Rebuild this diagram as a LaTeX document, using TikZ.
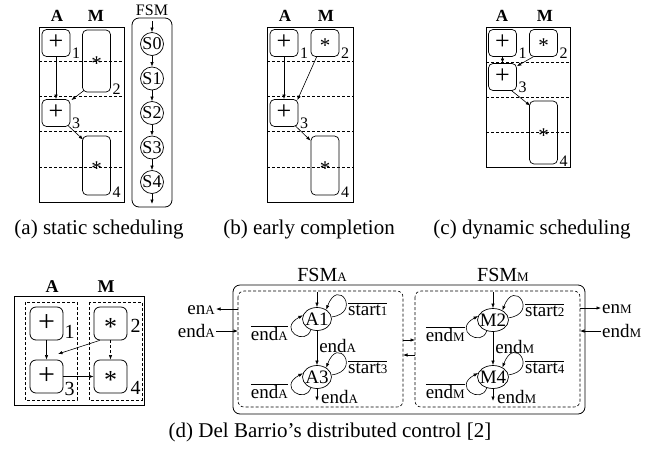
\documentclass[tikz,border=0pt]{standalone}
\usepackage{fontspec}
\setmainfont{Liberation Serif}
\usetikzlibrary{arrows.meta,shapes.geometric}
\newcommand{\fs}[1]{\fontsize{#1}{#1}\selectfont}
\newcommand{\sm}[1]{{\fontsize{13}{13}\selectfont #1}}
\newcommand{\ovl}[1]{$\overline{\hbox{#1}}$}
\newcommand{\ctr}[2]{\raisebox{-#1}[0pt][0pt]{#2}}
\newcommand{\plusop}[1]{{\fs{#1}\ctr{0.25em}{+}}}
\newcommand{\mulop}[1]{{\fs{#1}\ctr{0.47em}{*}}}
\newcommand{\rloop}[1]{\draw[arr] (#1.8) .. controls +(30,-4) and +(12,-33) .. (#1.45);}
\newcommand{\lloop}[1]{\draw[arr] (#1.240) .. controls +(-5,17) and +(-26,14) .. (#1.165);}
\begin{document}
\begin{tikzpicture}[x=1pt,y=-1pt,
  frame/.style={draw, line width=0.8pt},
  dl/.style={line width=0.6pt, dash pattern=on 3pt off 2pt},
  opb/.style={draw, rounded corners=4.5pt, inner sep=0pt, line width=0.7pt, minimum width=28pt, minimum height=27pt},
  opd/.style={draw, rounded corners=6pt, inner sep=0pt, line width=0.8pt, minimum width=33pt, minimum height=33pt},
  arr/.style={-{Latex[length=4.5pt,width=3.4pt]}, line width=0.6pt},
  nl/.style={anchor=base west, inner sep=0pt, font=\fs{16}},
  nld/.style={anchor=base west, inner sep=0pt, font=\fs{20}},
  col/.style={inner sep=0pt, font=\fs{17}\bfseries},
  st/.style={draw, circle, minimum size=23pt, inner sep=0pt, line width=0.7pt, font=\fs{18}},
  fst/.style={draw, ellipse, minimum width=29pt, minimum height=23pt, inner sep=0pt, line width=0.7pt, font=\fs{19}},
  txt/.style={inner sep=1pt, font=\fs{19}},
  captxt/.style={inner sep=0pt, font=\fs{21}}
]
\useasboundingbox (0,0) rectangle (661,448);

% ---------------- (a) ----------------
\foreach \y in {61,96.5,131.5,167} \draw[dl] (39,\y) -- (124,\y);
\draw[frame] (39,27) rectangle (124,202);
\node[col] (aA) at (57,16) {A};
\node[col] (aM) at (96,16) {M};
\node[opb] (a1) at (56,43) {\plusop{26}};
\node[opb, minimum height=62pt] (a2) at (96.5,61) {\mulop{21}};
\node[opb] (a3) at (56,113) {\plusop{26}};
\node[opb, minimum height=59pt] (a4) at (96.5,165.5) {\mulop{21}};
\node[nl] (la1) at ([shift={(1.5,2)}]a1.south east) {1};
\node[nl] (la2) at ([shift={(1.5,2)}]a2.south east) {2};
\node[nl] (la3) at ([shift={(1.5,2)}]a3.south east) {3};
\node[nl] (la4) at ([shift={(1.5,2)}]a4.south east) {4};
\draw[arr] (a1) -- (a3);
\draw[arr] ([shift={(2,-2)}]a2.south west) -- ([shift={(1,1)}]a3.north east);
\draw[arr] ([shift={(-2,-1)}]a3.south east) -- ([shift={(1,4)}]a4.north west);

\draw[frame, rounded corners=7pt] (132,18) rectangle (172,207);
\node[inner sep=0pt, font=\fs{16}] (fsm) at (152,10) {FSM};
\node[st] (s0) at (152,44) {\makebox[0pt]{S0}};
\node[st] (s1) at (152,78.5) {\makebox[0pt]{S1}};
\node[st] (s2) at (152,113) {\makebox[0pt]{S2}};
\node[st] (s3) at (152,147.5) {\makebox[0pt]{S3}};
\node[st] (s4) at (152,182) {\makebox[0pt]{S4}};
\coordinate (fin) at (152,21);
\coordinate (fout) at (152,204);
\draw[arr] (fin) -- (s0);
\draw[arr] (s0) -- (s1);
\draw[arr] (s1) -- (s2);
\draw[arr] (s2) -- (s3);
\draw[arr] (s3) -- (s4);
\draw[arr] (s4) -- (fout);
\node[captxt] (capa) at (99,229) {(a) static scheduling};

% ---------------- (b) ----------------
\foreach \y in {61,96.5,131.5,167} \draw[dl] (267,\y) -- (353,\y);
\draw[frame] (267,27) rectangle (353,202);
\node[col] (bA) at (285,16) {A};
\node[col] (bM) at (326,16) {M};
\node[opb] (b1) at (284,43) {\plusop{26}};
\node[opb] (b2) at (325,43) {\mulop{21}};
\node[opb] (b3) at (284,113) {\plusop{26}};
\node[opb, minimum height=59pt] (b4) at (325,165.5) {\mulop{21}};
\node[nl] (lb1) at ([shift={(1.5,2)}]b1.south east) {1};
\node[nl] (lb2) at ([shift={(1.5,2)}]b2.south east) {2};
\node[nl] (lb3) at ([shift={(1.5,2)}]b3.south east) {3};
\node[nl] (lb4) at ([shift={(1.5,2)}]b4.south east) {4};
\draw[arr] (b1) -- (b3);
\draw[arr] ([shift={(6,0)}]b2.south west) -- ([shift={(-1,1)}]b3.north east);
\draw[arr] ([shift={(-3,-1)}]b3.south east) -- ([shift={(0,5)}]b4.north west);
\node[captxt] (capb) at (309,229) {(b) early completion};

% ---------------- (c) ----------------
\foreach \y in {62,97,132} \draw[dl] (486,\y) -- (570,\y);
\draw[frame] (486,27) rectangle (570,167);
\node[col] (cA) at (502,16) {A};
\node[col] (cM) at (545,16) {M};
\node[opb] (c1) at (502.5,43) {\plusop{26}};
\node[opb] (c2) at (543.5,43) {\mulop{21}};
\node[opb] (c3) at (502.5,77) {\plusop{26}};
\node[opb, minimum height=63pt] (c4) at (543.5,132.5) {\mulop{21}};
\node[nl] (lc1) at ([shift={(1.5,2)}]c1.south east) {1};
\node[nl] (lc2) at ([shift={(1.5,2)}]c2.south east) {2};
\node[nl] (lc3) at ([shift={(1.5,2)}]c3.south east) {3};
\node[nl] (lc4) at ([shift={(1.5,2)}]c4.south east) {4};
\draw[arr] (c1) -- (c3);
\draw[arr] ([shift={(4,0)}]c2.south west) -- ([shift={(0,3)}]c3.north east);
\draw[arr] ([shift={(-5,0)}]c3.south east) -- ([shift={(1,5)}]c4.north west);
\node[captxt] (capc) at (532,229) {(c) dynamic scheduling};

% ---------------- (d) left ----------------
\draw[frame] (14,296) rectangle (144,405);
\draw[dl] (25,302) rectangle (77,400);
\draw[dl] (89,302) rectangle (142,400);
\node[col, font=\fs{18}\bfseries] (dA) at (52,287) {A};
\node[col, font=\fs{18}\bfseries] (dM) at (106,287) {M};
\node[opd] (d1) at (46.5,323.5) {\plusop{30}};
\node[opd] (d2) at (110.5,323.5) {\mulop{26}};
\node[opd] (d3) at (46.5,376.5) {\plusop{30}};
\node[opd] (d4) at (110.5,376.5) {\mulop{26}};
\node[nld] (ld1) at ([shift={(1,-2)}]d1.south east) {1};
\node[nld] (ld2) at ([shift={(3,-8)}]d2.south east) {2};
\node[nld] (ld3) at ([shift={(1,2)}]d3.south east) {3};
\node[nld] (ld4) at ([shift={(3,1)}]d4.south east) {4};
\coordinate (dfree) at (58,354);
\draw[arr] (d1) -- (d3);
\draw[arr] ([shift={(6,0)}]d2.south west) -- (dfree);
\draw[arr, dash pattern=on 3pt off 2pt] (d2) -- (d4);
\draw[arr] (d3) -- (d4);

% ---------------- (d) FSMs ----------------
\draw[frame, rounded corners=7pt] (233,285) rectangle (585,414);
\draw[dl, rounded corners=6pt] (238,291) rectangle (403,407);
\draw[dl, rounded corners=6pt] (415,291) rectangle (580,407);
\node[txt, font=\fs{20}] (fsmA) at (322,275) {FSM\sm{A}};
\node[txt, font=\fs{20}] (fsmM) at (503,275) {FSM\sm{M}};

\node[fst] (A1) at (317,319) {\makebox[0pt]{A1}};
\node[fst] (A3) at (317,377) {\makebox[0pt]{A3}};
\node[fst, minimum width=31pt] (M2) at (493,320) {\makebox[0pt]{M2}};
\node[fst, minimum width=31pt] (M4) at (493,377) {\makebox[0pt]{M4}};

\coordinate (A1in) at (317,292);
\coordinate (M2in) at (493,292);
\coordinate (A3out) at (317,401);
\coordinate (M4out) at (493,401);
\draw[arr] (A1in) -- (A1);
\draw[arr] (M2in) -- (M2);
\draw[arr] (A1) -- node[txt, anchor=west, pos=0.45, xshift=1pt] (eA13) {end\sm{A}} (A3);
\draw[arr] (M2) -- node[txt, anchor=west, pos=0.45, xshift=1pt] (eM24) {end\sm{M}} (M4);
\draw[arr] (A3) -- (A3out);
\draw[arr] (M4) -- (M4out);
\node[txt, anchor=west] (eA3o) at (320,397) {end\sm{A}};
\node[txt, anchor=west] (eM4o) at (496,397) {end\sm{M}};

\rloop{A1} \rloop{A3} \rloop{M2} \rloop{M4}
\lloop{A1} \lloop{A3} \lloop{M2} \lloop{M4}

\node[txt, anchor=base west, inner sep=0pt] (st1) at (348,315.5) {\ovl{start\sm{1}}};
\node[txt, anchor=base west, inner sep=0pt] (st3) at (348,373.5) {\ovl{start\sm{3}}};
\node[txt, anchor=base west, inner sep=0pt] (st2) at (525,316.5) {\ovl{start\sm{2}}};
\node[txt, anchor=base west, inner sep=0pt] (st4) at (525,373.5) {\ovl{start\sm{4}}};
\node[txt, anchor=base east, inner sep=0pt] (nA1) at (288,340.5) {\ovl{end\sm{A}}};
\node[txt, anchor=base east, inner sep=0pt] (nA3) at (288,398.5) {\ovl{end\sm{A}}};
\node[txt, anchor=base east, inner sep=0pt] (nM2) at (465,341.5) {\ovl{end\sm{M}}};
\node[txt, anchor=base east, inner sep=0pt] (nM4) at (465,398.5) {\ovl{end\sm{M}}};

% external signals
\node[txt, anchor=east] (enA) at (216,310) {en\sm{A}};
\node[txt, anchor=east] (endA) at (216,331) {end\sm{A}};
\coordinate (enAp) at (238,309);
\coordinate (endAp) at (238,331);
\draw[arr] (enAp) -- (enA.east |- enAp);
\draw[arr] (endA.east) -- (endAp);
\node[txt, anchor=west] (enM) at (601,309) {en\sm{M}};
\node[txt, anchor=west] (endM) at (601,331) {end\sm{M}};
\coordinate (enMp) at (580,308);
\coordinate (endMp) at (580,331);
\draw[arr] (enMp) -- (enM.west |- enMp);
\draw[arr] (endM.west) -- (endMp);

% between FSMs
\coordinate (mAr) at (403,340);
\coordinate (mMr) at (415,340);
\coordinate (mMl) at (415,355);
\coordinate (mAl) at (403,355);
\draw[arr] (mAr) -- (mMr);
\draw[arr] (mMl) -- (mAl);

\node[captxt] (capd) at (330,432) {(d) Del Barrio’s distributed control [2]};
\end{tikzpicture}
\end{document}
